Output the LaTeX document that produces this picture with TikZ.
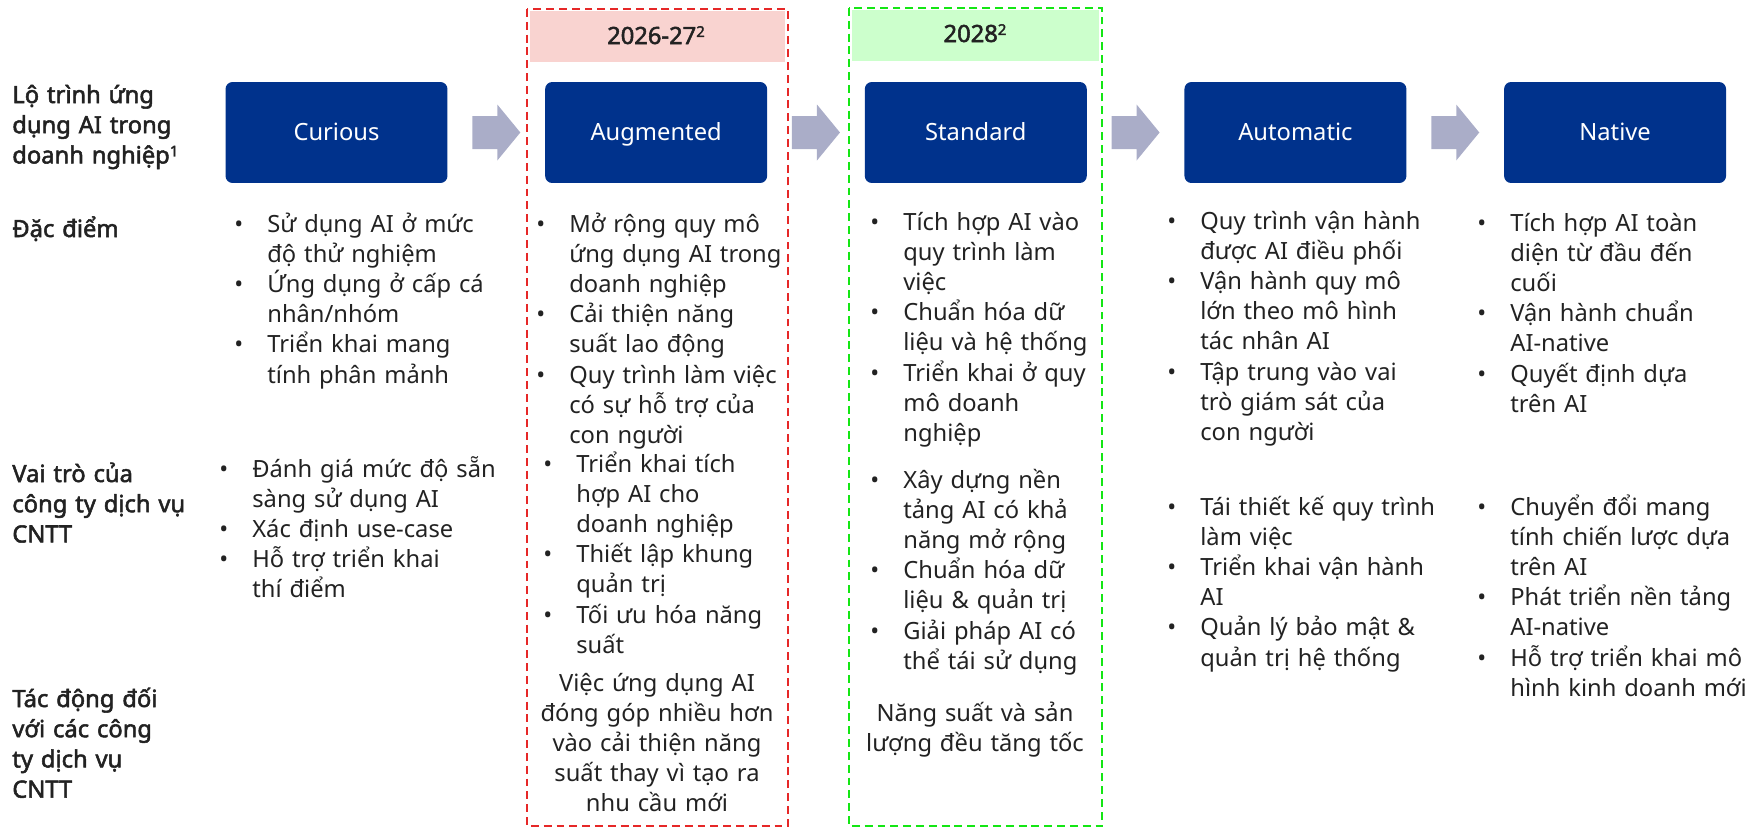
\documentclass[tikz,border=0pt]{standalone}
\usepackage{fontspec}
\setmainfont{Noto Sans}[AutoFakeBold=2.2]
\usetikzlibrary{positioning,calc}
\definecolor{navy}{HTML}{00328C}
\definecolor{flowgray}{HTML}{AAADC8}
\definecolor{ink}{HTML}{222222}
\definecolor{redline}{HTML}{E62828}
\definecolor{redfill}{HTML}{F9D3D0}
\definecolor{greenline}{HTML}{14E614}
\definecolor{greenfill}{HTML}{CCFFCC}
\newcommand{\bul}{\makebox[0.66cm][l]{•}}
\newcommand{\ind}{\hspace*{0.66cm}}
\newcommand{\fnmark}[1]{\raisebox{4pt}{\fontsize{8.5}{10}\selectfont #1}}

\begin{document}
\begin{tikzpicture}[x=0.02cm,y=-0.02cm,font=\fontsize{13.5}{17.2}\selectfont,text=ink,
  stage/.style={fill=navy,rounded corners=0.14cm,minimum width=4.44cm,minimum height=2.02cm,inner sep=0pt,text=white,text height=9.6pt,text depth=0pt},
  flow/.style={fill=flowgray},
  lane/.style={draw=#1,line width=1.3pt,dash pattern=on 4.5pt off 2.8pt},
  lbl/.style={font=\fontsize{13.5}{17.2}\selectfont\bfseries,text width=4cm,align=left,inner sep=0pt,anchor=base west},
  pts/.style={text width=6cm,align=left,inner sep=0pt,anchor=base west},
  note/.style={text width=5cm,align=center,inner sep=0pt,anchor=base}]
\useasboundingbox (0,0) rectangle (1758,829);
% year lanes
\fill[redfill] (530,11) rectangle (785,62);
\draw[lane=redline] (527,9) rectangle (788,826);
\fill[greenfill] (852,10) rectangle (1099,61);
\draw[lane=greenline] (849,8) rectangle (1102,826);
\node[font=\fontsize{13.5}{17.2}\selectfont\bfseries,anchor=base] (yrA) at (656,44) {2026-27\fnmark{2}};
\node[font=\fontsize{13.5}{17.2}\selectfont\bfseries,anchor=base] (yrB) at (975,42) {2028\fnmark{2}};
% stages
\node[stage] (cur) at (336.5,132.5) {Curious};
\node[stage,right=1.94cm of cur] (aug) {Augmented};
\node[stage,right=1.94cm of aug] (std) {Standard};
\node[stage,right=1.94cm of std] (aut) {Automatic};
\node[stage,right=1.94cm of aut] (nat) {Native};
\foreach \a/\b in {cur/aug,aug/std,std/aut,aut/nat} {
  \coordinate (m-\a) at ($(\a.east)!0.5!(\b.west)$);
  \fill[flow] (m-\a) ++(-24,-16.5) -- ++(25,0) -- ++(0,-11.5) -- ++(23,28)
     -- ++(-23,28) -- ++(0,-11.5) -- ++(-25,0) -- cycle;
}
% row labels
\node[lbl] (road) at (12,103) {Lộ trình ứng\\ dụng AI trong\\ doanh nghiệp\fnmark{1}};
\node[lbl] (trait) at (12,237) {Đặc điểm};
\node[lbl] (role) at (12,482) {Vai trò của\\ công ty dịch vụ\\ CNTT};
\node[lbl] (impact) at (12,707) {Tác động đối\\ với các công\\ ty dịch vụ\\ CNTT};
% Curious
\node[pts] (cur-t) at (234,232) {\bul Sử dụng AI ở mức\\ \ind độ thử nghiệm\\ \bul Ứng dụng ở cấp cá\\ \ind nhân/nhóm\\ \bul Triển khai mang\\ \ind tính phân mảnh};
\node[pts] (cur-r) at (219,477) {\bul Đánh giá mức độ sẵn\\ \ind sàng sử dụng AI\\ \bul Xác định use-case\\ \bul Hỗ trợ triển khai\\ \ind thí điểm};
% Augmented
\node[pts] (aug-t) at (536,232) {\bul Mở rộng quy mô\\ \ind ứng dụng AI trong\\ \ind doanh nghiệp\\ \bul Cải thiện năng\\ \ind suất lao động\\ \bul Quy trình làm việc\\ \ind có sự hỗ trợ của\\ \ind con người};
\node[pts] (aug-r) at (543,472) {\bul Triển khai tích\\ \ind hợp AI cho\\ \ind doanh nghiệp\\ \bul Thiết lập khung\\ \ind quản trị\\ \bul Tối ưu hóa năng\\ \ind suất};
\node[note] (aug-i) at (657,691) {Việc ứng dụng AI\\ đóng góp nhiều hơn\\ vào cải thiện năng\\ suất thay vì tạo ra\\ nhu cầu mới};
% Standard
\node[pts] (std-t) at (870,230) {\bul Tích hợp AI vào\\ \ind quy trình làm\\ \ind việc\\ \bul Chuẩn hóa dữ\\ \ind liệu và hệ thống\\ \bul Triển khai ở quy\\ \ind mô doanh\\ \ind nghiệp};
\node[pts] (std-r) at (870,488) {\bul Xây dựng nền\\ \ind tảng AI có khả\\ \ind năng mở rộng\\ \bul Chuẩn hóa dữ\\ \ind liệu \& quản trị\\ \bul Giải pháp AI có\\ \ind thể tái sử dụng};
\node[note] (std-i) at (975,721) {Năng suất và sản\\ lượng đều tăng tốc};
% Automatic
\node[pts] (aut-t) at (1167,229) {\bul Quy trình vận hành\\ \ind được AI điều phối\\ \bul Vận hành quy mô\\ \ind lớn theo mô hình\\ \ind tác nhân AI\\ \bul Tập trung vào vai\\ \ind trò giám sát của\\ \ind con người};
\node[pts] (aut-r) at (1167,515) {\bul Tái thiết kế quy trình\\ \ind làm việc\\ \bul Triển khai vận hành\\ \ind AI\\ \bul Quản lý bảo mật \&\\ \ind quản trị hệ thống};
% Native
\node[pts] (nat-t) at (1477,231) {\bul Tích hợp AI toàn\\ \ind diện từ đầu đến\\ \ind cuối\\ \bul Vận hành chuẩn\\ \ind AI-native\\ \bul Quyết định dựa\\ \ind trên AI};
\node[pts] (nat-r) at (1477,515) {\bul Chuyển đổi mang\\ \ind tính chiến lược dựa\\ \ind trên AI\\ \bul Phát triển nền tảng\\ \ind AI-native\\ \bul Hỗ trợ triển khai mô\\ \ind hình kinh doanh mới};
\end{tikzpicture}
\end{document}
